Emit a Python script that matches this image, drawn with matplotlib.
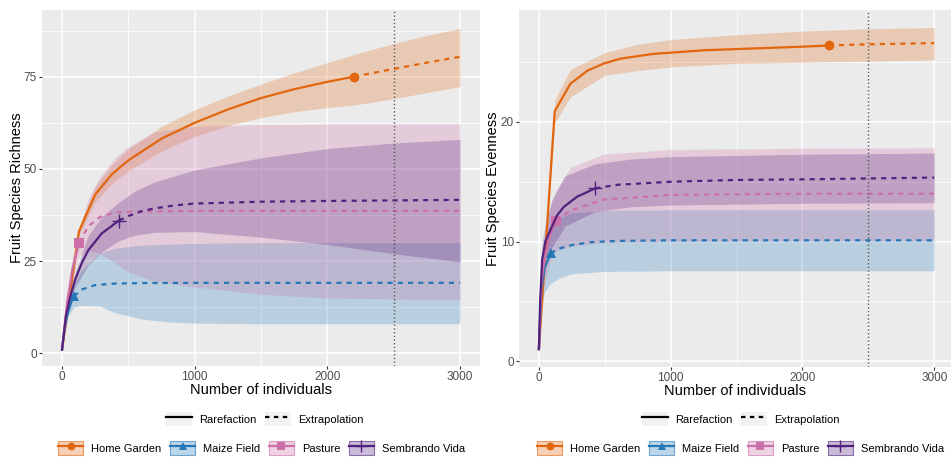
import matplotlib
matplotlib.use("Agg")
import matplotlib.pyplot as plt
from matplotlib.patches import Patch
from matplotlib.lines import Line2D
from matplotlib.legend_handler import HandlerTuple
from matplotlib.colors import to_rgba

plt.rcParams['font.family'] = ['Liberation Sans', 'DejaVu Sans']

sites = ["Home Garden", "Maize Field", "Pasture", "Sembrando Vida"]
colors = ["#E2660E", "#2478B8", "#CC6FA8", "#52207E"]
markers = ["o", "^", "s", "+"]
msizes = [7, 7.5, 6.5, 10]

# ---------------- Richness (left) ----------------
rich_hg_rx = [1, 128, 250, 375, 500, 750, 1000, 1250, 1500, 1750, 2000, 2200]
rich_hg_ry = [1, 33, 43, 48.5, 52.3, 58.2, 62.5, 66.1, 69.2, 71.6, 73.6, 75]
rich_hg_ex = [2200, 2500, 2750, 3000]
rich_hg_ey = [75, 77.1, 78.8, 80.4]
rich_hg_bx = [1, 128, 250, 375, 500, 750, 1000, 1250, 1500, 1750, 2000, 2200, 2500, 2750, 3000]
rich_hg_lo = [1, 32, 41, 46, 49.5, 54.8, 58.8, 61.7, 63.9, 65.5, 66.6, 67.3, 69, 70.7, 72.3]
rich_hg_hi = [1, 34, 45.2, 51, 55.3, 61.5, 66, 69.7, 73, 76, 78.8, 81, 84, 86.2, 88.1]

rich_mf_rx = [1, 20, 45, 70, 90]
rich_mf_ry = [1, 7, 11, 13.8, 15.5]
rich_mf_ex = [90, 150, 250, 400, 600, 1000, 3000]
rich_mf_ey = [15.5, 17.3, 18.5, 18.9, 19.05, 19.1, 19.1]
rich_mf_bx = [1, 45, 90, 150, 286, 400, 600, 800, 1000, 1500, 3000]
rich_mf_lo = [1, 10, 12.5, 13, 12.8, 11, 9.3, 8.5, 8.2, 8.0, 8.0]
rich_mf_hi = [1, 12, 18.5, 22.5, 27.2, 28.5, 29.3, 29.6, 29.8, 30, 30]

rich_ps_rx = [1, 40, 80, 130]
rich_ps_ry = [1, 14, 23, 30]
rich_ps_ex = [130, 200, 290, 400, 600, 1000, 3000]
rich_ps_ey = [30, 34.5, 37, 38.2, 38.5, 38.6, 38.6]
rich_ps_bx = [1, 40, 80, 130, 200, 290, 400, 500, 700, 1000, 1500, 2000, 3000]
rich_ps_lo = [1, 12, 20, 26.5, 27.8, 27, 24.5, 22, 19.5, 18, 16, 15, 14.5]
rich_ps_hi = [1, 16, 26, 34, 42, 48, 53, 56, 60, 61.5, 62, 62.1, 62.2]

rich_sv_rx = [1, 30, 60, 100, 150, 200, 300, 430]
rich_sv_ry = [1, 10, 15, 20, 24.5, 28, 32.5, 36]
rich_sv_ex = [430, 500, 600, 700, 850, 1000, 1500, 2000, 3000]
rich_sv_ey = [36, 37.2, 38.5, 39.3, 40.1, 40.6, 41.1, 41.3, 41.6]
rich_sv_bx = [1, 30, 60, 100, 200, 300, 430, 550, 700, 1000, 1500, 2000, 2500, 3000]
rich_sv_lo = [1, 9, 13.5, 18, 24, 27.5, 30.5, 32, 32.8, 33, 31.5, 29.5, 27, 24.8]
rich_sv_hi = [1, 11, 16.5, 22, 32, 37, 41, 44, 46.5, 49.7, 53, 55.5, 57, 58]

# ---------------- Evenness (right) ----------------
even_hg_rx = [1, 121, 240, 370, 495, 620, 745, 870, 1000, 1250, 1500, 1750, 2000, 2200]
even_hg_ry = [1, 20.9, 23.2, 24.3, 24.9, 25.3, 25.5, 25.7, 25.8, 26.0, 26.1, 26.2, 26.3, 26.4]
even_hg_ex = [2200, 2500, 3000]
even_hg_ey = [26.4, 26.5, 26.6]
even_hg_bx = [1, 121, 240, 500, 750, 1000, 1500, 2000, 2500, 3000]
even_hg_lo = [1, 19.9, 22.1, 23.9, 24.3, 24.6, 24.9, 25.0, 25.1, 25.2]
even_hg_hi = [1, 21.8, 24.4, 25.8, 26.5, 26.9, 27.3, 27.6, 27.8, 27.9]

even_mf_rx = [1, 20, 45, 89]
even_mf_ry = [1, 6, 7.8, 9.0]
even_mf_ex = [89, 150, 250, 400, 600, 1000, 3000]
even_mf_ey = [9.0, 9.4, 9.7, 9.95, 10.05, 10.1, 10.1]
even_mf_bx = [1, 20, 45, 89, 150, 250, 500, 1000, 3000]
even_mf_lo = [1, 4.5, 5.8, 6.5, 6.9, 7.3, 7.5, 7.55, 7.55]
even_mf_hi = [1, 7.5, 9.8, 11.2, 11.9, 12.4, 12.6, 12.65, 12.65]

even_ps_rx = [1, 20, 50, 90, 132]
even_ps_ry = [1, 6.5, 9, 10.7, 11.7]
even_ps_ex = [132, 240, 490, 1000, 2000, 3000]
even_ps_ey = [11.7, 12.6, 13.5, 13.9, 14.0, 14.0]
even_ps_bx = [1, 20, 50, 90, 132, 240, 490, 1000, 2000, 3000]
even_ps_lo = [1, 5, 7, 8.5, 9.2, 9.6, 9.9, 10.0, 10.05, 10.05]
even_ps_hi = [1, 8, 11, 13, 14.3, 16.2, 17.3, 17.7, 17.8, 17.85]

even_sv_rx = [1, 10, 26, 50, 89, 140, 190, 291, 429]
even_sv_ry = [1, 5, 8.5, 10, 11, 12.2, 12.9, 13.75, 14.45]
even_sv_ex = [429, 600, 1000, 1500, 2000, 3000]
even_sv_ey = [14.45, 14.75, 15.0, 15.15, 15.2, 15.35]
even_sv_bx = [1, 10, 26, 50, 100, 200, 429, 700, 1000, 2000, 3000]
even_sv_lo = [1, 4, 7, 8.5, 9.5, 11.3, 12.5, 12.9, 13.05, 13.2, 13.25]
even_sv_hi = [1, 6, 10, 11.5, 13.5, 15.5, 16.5, 16.9, 17.1, 17.3, 17.4]

x_ticks = [0, 1000, 2000, 3000]
rich_yticks = [0, 25, 50, 75]
even_yticks = [0, 10, 20]
ref_size = 2500

rich = [
    (rich_hg_rx, rich_hg_ry, rich_hg_ex, rich_hg_ey, rich_hg_bx, rich_hg_lo, rich_hg_hi),
    (rich_mf_rx, rich_mf_ry, rich_mf_ex, rich_mf_ey, rich_mf_bx, rich_mf_lo, rich_mf_hi),
    (rich_ps_rx, rich_ps_ry, rich_ps_ex, rich_ps_ey, rich_ps_bx, rich_ps_lo, rich_ps_hi),
    (rich_sv_rx, rich_sv_ry, rich_sv_ex, rich_sv_ey, rich_sv_bx, rich_sv_lo, rich_sv_hi),
]
even = [
    (even_hg_rx, even_hg_ry, even_hg_ex, even_hg_ey, even_hg_bx, even_hg_lo, even_hg_hi),
    (even_mf_rx, even_mf_ry, even_mf_ex, even_mf_ey, even_mf_bx, even_mf_lo, even_mf_hi),
    (even_ps_rx, even_ps_ry, even_ps_ex, even_ps_ey, even_ps_bx, even_ps_lo, even_ps_hi),
    (even_sv_rx, even_sv_ry, even_sv_ex, even_sv_ey, even_sv_bx, even_sv_lo, even_sv_hi),
]

W, H = 951, 459
fig = plt.figure(figsize=(W / 100, H / 100), dpi=100)
ax1 = fig.add_axes([42 / W, 1 - 366 / H, 438 / W, 356 / H])
ax2 = fig.add_axes([519 / W, 1 - 367 / H, 435 / W, 357 / H])

DASH = (0, (2.3, 2.3))
LW = 1.6
ALPHA = 0.25


def draw(ax, data, yticks, ylim, minor_y, ylabel):
    ax.set_facecolor("#EBEBEB")
    for s in ax.spines.values():
        s.set_visible(False)
    ax.set_xlim(-150, 3150)
    ax.set_ylim(*ylim)
    ax.set_xticks(x_ticks)
    ax.set_xticks([500, 1500, 2500], minor=True)
    ax.set_yticks(yticks)
    ax.set_yticks(minor_y, minor=True)
    ax.grid(True, which="major", color="white", lw=1.1)
    ax.grid(True, which="minor", color="white", lw=0.55)
    ax.set_axisbelow(True)
    ax.tick_params(which="minor", length=0)
    ax.tick_params(which="major", length=2.2, width=0.8, color="#333333",
                   labelcolor="#4D4D4D", labelsize=8.5, pad=1.5)
    for (rx, ry, ex, ey, bx, lo, hi), c in zip(data, colors):
        ax.fill_between(bx, lo, hi, color=c, alpha=ALPHA, lw=0)
    for (rx, ry, ex, ey, bx, lo, hi), c, m, ms in zip(data, colors, markers, msizes):
        ax.plot(rx, ry, color=c, lw=LW, solid_joinstyle="round")
        ax.plot(ex, ey, color=c, lw=LW, ls=DASH)
        ax.plot([rx[-1]], [ry[-1]], marker=m, color=c, ms=ms,
                mew=1.0 if m == "+" else 0, ls="none")
    ax.axvline(ref_size, color="#555555", ls=":", lw=1.0)
    ax.set_xlabel("Number of individuals", fontsize=10.5)
    ax.set_ylabel(ylabel, fontsize=10.5)
    ax.xaxis.label.set_va("center")
    ax.yaxis.label.set_va("center")


draw(ax1, rich, rich_yticks, (-3.44, 93.07), [12.5, 37.5, 62.5, 87.5], "Fruit Species Richness")
draw(ax2, even, even_yticks, (-0.50, 29.37), [5, 15, 25], "Fruit Species Evenness")
ax1.xaxis.set_label_coords((261 - 42) / 438, -24 / 356)
ax1.yaxis.set_label_coords((17 - 42) / 438, 0.5)
ax2.xaxis.set_label_coords((735 - 519) / 435, -24 / 357)
ax2.yaxis.set_label_coords((493 - 519) / 435, 0.5)

# legends
lt_handles = [
    (Patch(facecolor="#F2F2F2", edgecolor="none"), Line2D([], [], color="black", lw=LW)),
    (Patch(facecolor="#F2F2F2", edgecolor="none"), Line2D([], [], color="black", lw=LW, ls=(0, (2.0, 2.0)))),
]
lt_labels = ["Rarefaction", "Extrapolation"]
sp_handles = []
for c, m, ms in zip(colors, markers, msizes):
    sp_handles.append((
        Patch(facecolor=to_rgba(c, 0.3), edgecolor=to_rgba(c, 0.6), lw=0.8),
        Line2D([], [], color=c, lw=LW, marker=m, ms=ms * 0.8,
               mew=1.0 if m == "+" else 0),
    ))

common = dict(frameon=False, fontsize=8, handlelength=2.3, handleheight=1.5,
              handletextpad=0.7, columnspacing=0.75, borderpad=0, borderaxespad=0,
              handler_map={tuple: HandlerTuple(ndivide=1, pad=0)})
for cx_lt, cx_sp in [(265 / W, 261.5 / W), (741 / W, 740.5 / W)]:
    fig.legend(lt_handles, lt_labels, loc="center", bbox_to_anchor=(cx_lt, 1 - 419 / H),
               ncol=2, **common)
    fig.legend(sp_handles, sites, loc="center", bbox_to_anchor=(cx_sp, 1 - 448 / H),
               ncol=4, **common)

fig.savefig("out.png", dpi=100)
